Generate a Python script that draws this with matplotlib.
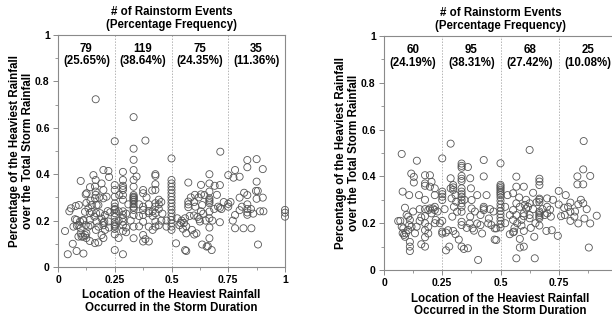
import matplotlib
matplotlib.use('Agg')
import matplotlib.pyplot as plt
from matplotlib.ticker import MultipleLocator

plt.rcParams['font.family'] = ['Liberation Sans', 'DejaVu Sans']
plt.rcParams['font.weight'] = 'bold'

# ---- data ----
left_x = [
    # 0 - 0.25
    0.031, 0.043, 0.065, 0.082, 0.112, 0.057, 0.078, 0.092, 0.100, 0.068, 0.082, 0.090, 0.090, 0.100, 0.100,
    0.104, 0.111, 0.119, 0.125, 0.097, 0.112, 0.122, 0.134, 0.140, 0.134, 0.126, 0.122, 0.141, 0.156, 0.166,
    0.163, 0.166, 0.166, 0.163, 0.170, 0.178, 0.192, 0.200, 0.200, 0.214, 0.200, 0.222, 0.225, 0.148, 0.148,
    0.160, 0.170, 0.192, 0.204, 0.207, 0.219, 0.222, 0.207, 0.192, 0.163, 0.178, 0.200, 0.140, 0.119, 0.075,
    0.140, 0.178, 0.185, 0.168, 0.166, 0.143, 0.125, 0.182, 0.111, 0.083, 0.200, 0.200, 0.125, 0.143, 0.050,
    0.167, 0.230, 0.225,
    # 0.25 - 0.5
    0.25, 0.25, 0.25, 0.25, 0.25, 0.25, 0.25, 0.25, 0.25, 0.25, 0.25, 0.25, 0.25, 0.25, 0.25, 0.25, 0.25,
    0.267, 0.267, 0.267,
    0.286, 0.286, 0.286, 0.286, 0.286, 0.286, 0.286, 0.286, 0.286, 0.286, 0.286, 0.286, 0.286, 0.286,
    0.30, 0.30, 0.30,
    0.333, 0.333, 0.333, 0.333, 0.333, 0.333, 0.333, 0.333, 0.333, 0.333, 0.333, 0.333, 0.333, 0.333, 0.333,
    0.333, 0.333, 0.333, 0.333, 0.333,
    0.357, 0.357, 0.357,
    0.375, 0.375, 0.375, 0.375, 0.375, 0.375, 0.375, 0.375,
    0.385, 0.385,
    0.40, 0.40, 0.40, 0.40, 0.40,
    0.417, 0.417, 0.417,
    0.429, 0.429, 0.429, 0.429, 0.429, 0.429, 0.429, 0.429, 0.429,
    0.444, 0.444, 0.444, 0.444,
    0.455, 0.455, 0.478, 0.478,
    0.5, 0.5, 0.5, 0.5, 0.5, 0.5, 0.5, 0.5, 0.5, 0.5, 0.5, 0.5, 0.5, 0.5, 0.5, 0.5, 0.5,
    0.31, 0.32, 0.346, 0.39, 0.46, 0.27, 0.415,
    # 0.5 - 0.75
    0.52, 0.574, 0.574, 0.574, 0.574, 0.56, 0.555, 0.565, 0.565, 0.56, 0.565, 0.599, 0.603, 0.615, 0.622,
    0.625, 0.63, 0.63, 0.635, 0.635, 0.655, 0.677,
    0.667, 0.667, 0.667, 0.667, 0.667, 0.667, 0.667, 0.667, 0.667, 0.667, 0.667,
    0.70, 0.713, 0.713, 0.705, 0.713, 0.715,
    0.75, 0.75, 0.75,
    0.54, 0.545, 0.55, 0.58, 0.60, 0.60, 0.62, 0.64, 0.65, 0.66, 0.688, 0.69, 0.72, 0.535, 0.59, 0.605,
    0.645, 0.68, 0.73, 0.525, 0.585, 0.61, 0.63,
    # 0.75 - 1
    0.773, 0.78, 0.80, 0.78, 0.78, 0.80, 0.817, 0.834, 0.834, 0.834, 0.834, 0.834, 0.834, 0.834, 0.852,
    0.875, 0.875, 0.872, 0.88, 0.875, 0.881, 0.89, 0.905, 0.902, 0.902, 0.85, 0.80, 0.81, 1.0, 1.0, 1.0,
    0.86, 0.76, 0.82, 0.77,
]
left_y = [
    0.155, 0.055, 0.100, 0.069, 0.058, 0.253, 0.263, 0.267, 0.371, 0.174, 0.203, 0.181, 0.131, 0.167, 0.145,
    0.131, 0.131, 0.138, 0.145, 0.196, 0.203, 0.181, 0.174, 0.232, 0.253, 0.318, 0.313, 0.344, 0.396, 0.375,
    0.347, 0.325, 0.311, 0.296, 0.267, 0.267, 0.360, 0.332, 0.296, 0.303, 0.418, 0.414, 0.388, 0.267, 0.238,
    0.217, 0.196, 0.209, 0.196, 0.224, 0.241, 0.196, 0.160, 0.138, 0.103, 0.106, 0.125, 0.203, 0.238, 0.206,
    0.112, 0.174, 0.232, 0.232, 0.723, 0.286, 0.276, 0.300, 0.200, 0.178, 0.190, 0.180, 0.125, 0.180, 0.240,
    0.160, 0.236, 0.170,
    0.542, 0.353, 0.332, 0.303, 0.274, 0.260, 0.246, 0.232, 0.217, 0.195, 0.184, 0.174, 0.164, 0.141, 0.073,
    0.250, 0.178,
    0.200, 0.240, 0.125,
    0.410, 0.375, 0.350, 0.340, 0.332, 0.310, 0.290, 0.240, 0.225, 0.210, 0.195, 0.180, 0.155, 0.055,
    0.230, 0.170, 0.150,
    0.646, 0.510, 0.462, 0.418, 0.375, 0.346, 0.310, 0.303, 0.296, 0.289, 0.282, 0.271, 0.260, 0.246, 0.224,
    0.174, 0.124, 0.300, 0.290, 0.255,
    0.270, 0.220, 0.175,
    0.332, 0.318, 0.260, 0.246, 0.224, 0.195, 0.138, 0.110,
    0.545, 0.120,
    0.270, 0.232, 0.174, 0.110, 0.240,
    0.240, 0.220, 0.160,
    0.400, 0.393, 0.357, 0.332, 0.275, 0.260, 0.232, 0.196, 0.174,
    0.270, 0.250, 0.180, 0.290,
    0.280, 0.200, 0.174, 0.200,
    0.468, 0.375, 0.360, 0.346, 0.332, 0.318, 0.303, 0.289, 0.275, 0.260, 0.246, 0.232, 0.217, 0.203, 0.188,
    0.174, 0.160,
    0.270, 0.200, 0.390, 0.300, 0.230, 0.310, 0.330,
    0.102, 0.364, 0.282, 0.270, 0.258, 0.210, 0.190, 0.175, 0.145, 0.073, 0.069, 0.222, 0.311, 0.216, 0.206,
    0.196, 0.354, 0.313, 0.267, 0.097, 0.088, 0.073,
    0.400, 0.360, 0.325, 0.296, 0.289, 0.282, 0.275, 0.239, 0.210, 0.170, 0.124,
    0.311, 0.353, 0.255, 0.260, 0.193, 0.497,
    0.396, 0.272, 0.260,
    0.190, 0.200, 0.165, 0.220, 0.280, 0.140, 0.300, 0.230, 0.200, 0.090, 0.250, 0.350, 0.250, 0.180, 0.160,
    0.260, 0.310, 0.200, 0.280, 0.210, 0.300, 0.145, 0.240,
    0.385, 0.418, 0.389, 0.224, 0.167, 0.299, 0.167, 0.461, 0.430, 0.310, 0.270, 0.235, 0.225, 0.250, 0.167,
    0.465, 0.368, 0.328, 0.328, 0.294, 0.097, 0.240, 0.240, 0.299, 0.422, 0.250, 0.245, 0.260, 0.246, 0.234,
    0.217, 0.230, 0.280, 0.320, 0.200,
]

right_x = [
    # 0 - 0.25
    0.076, 0.141, 0.117, 0.128, 0.128, 0.080, 0.108, 0.090, 0.097, 0.104, 0.111, 0.108, 0.104, 0.118, 0.061,
    0.076, 0.083, 0.080, 0.086, 0.090, 0.094, 0.111, 0.111, 0.111, 0.133, 0.140,
    0.176, 0.176, 0.176, 0.176, 0.176, 0.176, 0.176, 0.176, 0.176, 0.176,
    0.153, 0.153, 0.160, 0.197, 0.204, 0.197, 0.218, 0.218, 0.190, 0.197, 0.204, 0.210, 0.218, 0.218, 0.190,
    0.190, 0.218, 0.222, 0.240, 0.230, 0.160, 0.125, 0.070, 0.150,
    # 0.25 - 0.5
    0.25, 0.25, 0.25, 0.25, 0.25, 0.25, 0.25, 0.25,
    0.266, 0.286, 0.286, 0.286, 0.290, 0.297, 0.297, 0.297, 0.307, 0.310, 0.300, 0.293, 0.314, 0.280, 0.297,
    0.307, 0.321, 0.333, 0.343, 0.360,
    0.333, 0.333, 0.333, 0.333, 0.333, 0.333, 0.333, 0.333, 0.333, 0.333, 0.333, 0.333, 0.333, 0.333, 0.333,
    0.333,
    0.370, 0.373, 0.376, 0.376, 0.370, 0.400, 0.414, 0.368, 0.380, 0.386, 0.400, 0.414, 0.421,
    0.428, 0.428, 0.428, 0.428, 0.428,
    0.404, 0.440, 0.447, 0.461, 0.475, 0.475,
    0.5, 0.5, 0.5, 0.5, 0.5, 0.5, 0.5, 0.5, 0.5, 0.5, 0.5, 0.5, 0.5, 0.5, 0.5, 0.5, 0.5, 0.5,
    0.482, 0.482, 0.470, 0.455, 0.450, 0.390, 0.355, 0.345, 0.260, 0.275, 0.265, 0.360,
    # 0.5 - 0.75
    0.625, 0.568, 0.568, 0.600, 0.554, 0.568, 0.583, 0.604, 0.618, 0.625, 0.610, 0.540, 0.554, 0.568, 0.554,
    0.572, 0.590, 0.600, 0.625, 0.625, 0.540, 0.554, 0.558, 0.583, 0.600, 0.583, 0.568, 0.647, 0.645,
    0.667, 0.667, 0.667, 0.667, 0.667, 0.667, 0.667, 0.667, 0.667, 0.667, 0.667, 0.667,
    0.700, 0.700, 0.700, 0.697, 0.690,
    0.750, 0.750, 0.746, 0.713, 0.716, 0.720,
    0.610, 0.640, 0.650, 0.520, 0.530, 0.560, 0.580, 0.630, 0.655, 0.680, 0.725, 0.600, 0.590, 0.640, 0.520,
    0.600,
    # 0.75 - 1
    0.857, 0.773, 0.776, 0.800, 0.800, 0.817, 0.834, 0.834, 0.855, 0.830, 0.855, 0.830, 0.855, 0.885, 0.885,
    0.913, 0.879, 0.760, 0.790, 0.820, 0.845, 0.860, 0.780, 0.800, 0.870,
]
right_y = [
    0.496, 0.467, 0.412, 0.398, 0.374, 0.335, 0.320, 0.266, 0.235, 0.228, 0.214, 0.192, 0.171, 0.185, 0.209,
    0.185, 0.178, 0.157, 0.150, 0.142, 0.157, 0.120, 0.081, 0.100, 0.157, 0.185,
    0.405, 0.370, 0.360, 0.300, 0.260, 0.230, 0.200, 0.170, 0.140, 0.100,
    0.260, 0.210, 0.225, 0.405, 0.377, 0.356, 0.349, 0.320, 0.256, 0.263, 0.242, 0.263, 0.256, 0.270, 0.156,
    0.185, 0.200, 0.214, 0.200, 0.250, 0.110, 0.250, 0.210, 0.320,
    0.477, 0.335, 0.324, 0.313, 0.299, 0.210, 0.164, 0.156,
    0.084, 0.540, 0.392, 0.349, 0.306, 0.363, 0.353, 0.342, 0.320, 0.292, 0.270, 0.228, 0.249, 0.100, 0.167,
    0.153, 0.130, 0.100, 0.090, 0.093,
    0.455, 0.445, 0.437, 0.402, 0.390, 0.380, 0.349, 0.335, 0.324, 0.313, 0.299, 0.285, 0.270, 0.249, 0.206,
    0.192,
    0.392, 0.349, 0.299, 0.263, 0.228, 0.320, 0.235, 0.199, 0.178, 0.168, 0.199, 0.192, 0.156,
    0.470, 0.400, 0.270, 0.263, 0.256,
    0.043, 0.320, 0.199, 0.192, 0.178, 0.130,
    0.456, 0.364, 0.357, 0.350, 0.343, 0.335, 0.328, 0.320, 0.310, 0.296, 0.280, 0.266, 0.252, 0.238, 0.224,
    0.210, 0.196, 0.182,
    0.178, 0.128, 0.250, 0.260, 0.220, 0.250, 0.180, 0.300, 0.260, 0.170, 0.160, 0.440,
    0.513, 0.399, 0.356, 0.356, 0.328, 0.285, 0.270, 0.278, 0.270, 0.285, 0.263, 0.235, 0.256, 0.235, 0.214,
    0.200, 0.214, 0.242, 0.235, 0.221, 0.153, 0.161, 0.164, 0.133, 0.167, 0.096, 0.050, 0.050, 0.142,
    0.390, 0.378, 0.363, 0.305, 0.300, 0.290, 0.250, 0.243, 0.235, 0.228, 0.221, 0.190,
    0.306, 0.270, 0.242, 0.167, 0.235,
    0.338, 0.280, 0.146, 0.258, 0.228, 0.170,
    0.300, 0.260, 0.200, 0.200, 0.320, 0.180, 0.310, 0.180, 0.290, 0.260, 0.300, 0.100, 0.190, 0.330, 0.270,
    0.230,
    0.551, 0.266, 0.235, 0.288, 0.249, 0.228, 0.199, 0.281, 0.285, 0.366, 0.366, 0.400, 0.430, 0.402, 0.199,
    0.232, 0.096, 0.230, 0.270, 0.250, 0.300, 0.220, 0.320, 0.210, 0.260,
]

left_counts = ['79', '119', '75', '35']
left_pcts = ['(25.65%)', '(38.64%)', '(24.35%)', '(11.36%)']
right_counts = ['60', '95', '68', '25']
right_pcts = ['(24.19%)', '(38.31%)', '(27.42%)', '(10.08%)']
bin_centers = [0.125, 0.375, 0.625, 0.875]
bin_edges = [0.25, 0.5, 0.75]
xticks = [0, 0.25, 0.5, 0.75, 1]
left_xticklabels = ['0', '0.25', '0.5', '0.75', '1']
# the right panel is cropped at the figure edge, so its "1" is not visible
right_xticklabels = ['0', '0.25', '0.5', '0.75', '']
yticks = [0, 0.2, 0.4, 0.6, 0.8, 1]
yticklabels = ['0', '0.2', '0.4', '0.6', '0.8', '1']

title = '# of Rainstorm Events\n(Percentage Frequency)'
xlabel = 'Location of the Heaviest Rainfall\nOccurred in the Storm Duration'
ylabel = 'Percentage of the Heaviest Rainfall\nover the Total Storm Rainfall'

spine_col = '#8a8a8a'
fig = plt.figure(figsize=(6.12, 3.21), dpi=100)


def draw(ax, xs, ys, counts, pcts, xticklabels):
    for e in bin_edges:
        ax.axvline(e, color='#b5b5b5', linestyle=(0, (1.5, 1.5)), linewidth=0.7, zorder=1)
    ax.scatter(xs, ys, s=26, facecolors='none', edgecolors='#555555', linewidths=0.6, zorder=3, clip_on=False)
    for c, n, p in zip(bin_centers, counts, pcts):
        ax.text(c, 0.914, n + '\n' + p, ha='center', va='center', fontsize=8.3,
                fontweight='bold', linespacing=1.1)
    ax.set_xlim(0, 1)
    ax.set_ylim(0, 1)
    ax.set_xticks(xticks)
    ax.set_xticklabels(xticklabels)
    ax.set_yticks(yticks)
    ax.set_yticklabels(yticklabels)
    ax.xaxis.set_minor_locator(MultipleLocator(0.125))
    ax.yaxis.set_minor_locator(MultipleLocator(0.1))
    ax.tick_params(which='major', length=3.5, width=0.7, color=spine_col, labelsize=7.5, pad=2.5)
    ax.tick_params(which='minor', length=2, width=0.6, color=spine_col)
    for s in ax.spines.values():
        s.set_color(spine_col)
        s.set_linewidth(0.8)
    ax.set_title(title, fontsize=8.3, fontweight='bold', pad=5, linespacing=1.15)
    ax.set_xlabel(xlabel, fontsize=8.3, fontweight='bold', labelpad=3, linespacing=1.05)
    ax.set_ylabel(ylabel, fontsize=8.3, fontweight='bold', labelpad=1, linespacing=1.05)


ax1 = fig.add_axes([58 / 612, 54 / 321, 227 / 612, 232 / 321])
draw(ax1, left_x, left_y, left_counts, left_pcts, left_xticklabels)

ax2 = fig.add_axes([384 / 612, 51 / 321, 233 / 612, 234 / 321])
draw(ax2, right_x, right_y, right_counts, right_pcts, right_xticklabels)

fig.savefig('out.png', dpi=100)
